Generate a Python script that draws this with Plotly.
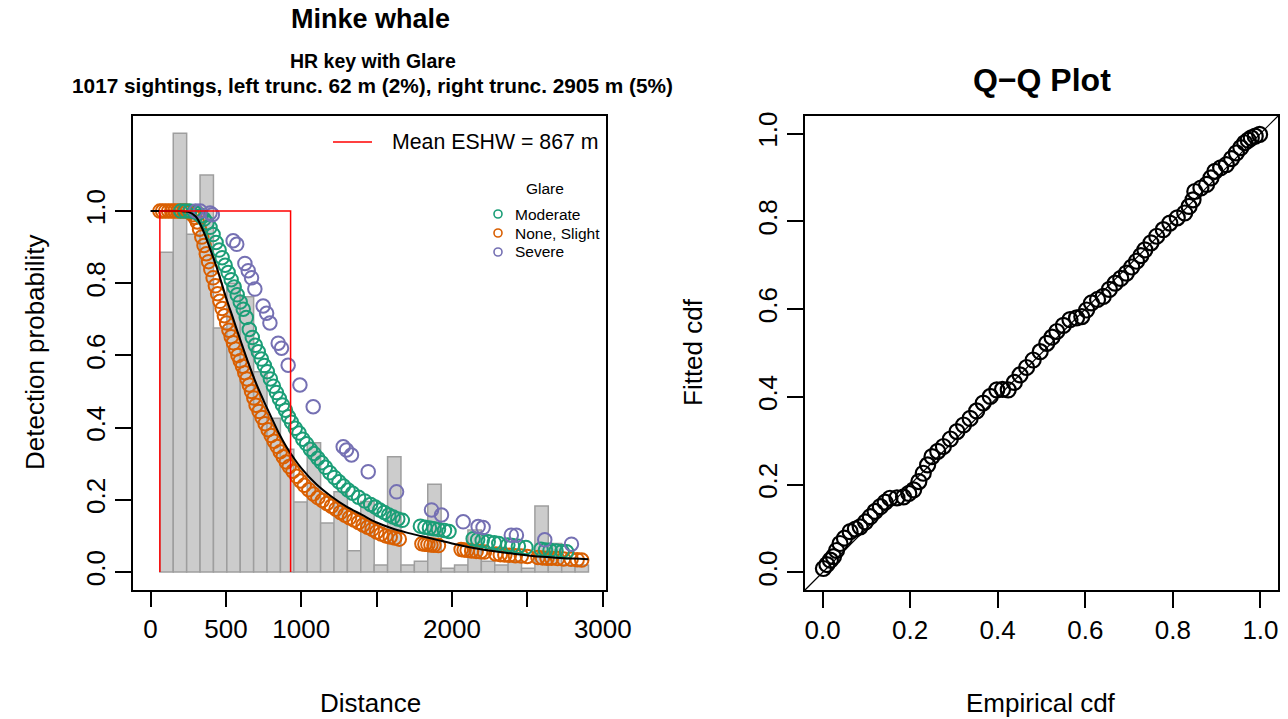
import numpy as np
import plotly.graph_objects as go

# ------------------------------------------------------------------ data
left_trunc = 62
right_trunc = 2905
mean_eshw = 867

# scaled histogram heights (32 equal bins between the truncation distances)
hist_heights = [0.886, 1.216, 0.936, 1.100, 0.676, 0.800, 0.763, 0.555,
                0.426, 0.340, 0.194, 0.358, 0.136, 0.222, 0.059, 0.195,
                0.019, 0.319, 0.019, 0.030, 0.243, 0.010, 0.019, 0.116,
                0.030, 0.019, 0.030, 0.010, 0.183, 0.079, 0.019, 0.019]

# average detection function (black line)
avg_dist = [0, 100, 200, 250, 300, 350, 400, 450, 500, 550, 600, 650, 700,
            750, 800, 850, 900, 950, 1000, 1100, 1200, 1300, 1400, 1500,
            1600, 1700, 1800, 1900, 2000, 2200, 2400, 2600, 2800, 2905]
avg_p = [1.000, 1.000, 1.000, 0.998, 0.985, 0.945, 0.890, 0.830, 0.762,
         0.700, 0.638, 0.578, 0.523, 0.475, 0.430, 0.386, 0.348, 0.316,
         0.288, 0.243, 0.209, 0.181, 0.159, 0.137, 0.121, 0.109, 0.099,
         0.089, 0.079, 0.062, 0.051, 0.042, 0.037, 0.035]

# Glare = None, Slight
ns_dist = [62, 80, 100, 120, 140, 160, 180, 200, 220, 240, 260, 280, 295,
           310, 325, 340, 355, 370, 385, 400, 415, 430, 445, 460, 475, 490,
           505, 520, 535, 550, 565, 580, 595, 610, 625, 640, 655, 670, 685,
           700, 720, 740, 760, 780, 800, 820, 840, 860, 880, 900, 920, 945,
           970, 995, 1020, 1050, 1080, 1110, 1140, 1170, 1200, 1230, 1260,
           1290, 1320, 1350, 1380, 1410, 1440, 1470, 1500, 1530, 1560, 1590,
           1620, 1650, 1800, 1820, 1840, 1860, 1880, 1910, 2060, 2080, 2100,
           2130, 2160, 2190, 2215, 2290, 2320, 2350, 2380, 2420, 2460, 2500,
           2570, 2600, 2630, 2660, 2700, 2740, 2790, 2830, 2860]
ns_p = [1.000, 1.000, 1.000, 1.000, 1.000, 1.000, 1.000, 1.000, 1.000,
        1.000, 0.997, 0.990, 0.982, 0.970, 0.950, 0.928, 0.905, 0.882,
        0.860, 0.838, 0.815, 0.793, 0.771, 0.750, 0.730, 0.710, 0.690,
        0.670, 0.652, 0.635, 0.618, 0.600, 0.585, 0.570, 0.552, 0.535,
        0.518, 0.500, 0.482, 0.462, 0.445, 0.428, 0.411, 0.394, 0.378,
        0.362, 0.348, 0.333, 0.319, 0.305, 0.292, 0.279, 0.265, 0.252,
        0.240, 0.228, 0.216, 0.206, 0.198, 0.190, 0.182, 0.174, 0.165,
        0.157, 0.150, 0.144, 0.137, 0.130, 0.124, 0.118, 0.111, 0.105,
        0.100, 0.097, 0.094, 0.091, 0.078, 0.077, 0.076, 0.075, 0.074,
        0.073, 0.062, 0.061, 0.060, 0.058, 0.057, 0.056, 0.055, 0.050,
        0.048, 0.047, 0.046, 0.045, 0.044, 0.043, 0.040, 0.039, 0.038,
        0.038, 0.037, 0.036, 0.035, 0.034, 0.033]

# Glare = Moderate
mod_dist = [200, 230, 260, 290, 315, 335, 355, 375, 395, 415, 435, 455, 475,
            495, 515, 535, 555, 575, 595, 615, 635, 655, 675, 695, 715, 735,
            755, 775, 795, 815, 835, 855, 875, 895, 915, 935, 960, 985, 1010,
            1035, 1060, 1085, 1110, 1135, 1160, 1190, 1220, 1250, 1280, 1310,
            1340, 1380, 1420, 1460, 1490, 1520, 1550, 1580, 1610, 1640, 1670,
            1790, 1820, 1850, 1880, 1910, 1950, 1980, 2140, 2170, 2200, 2240,
            2280, 2310, 2370, 2400, 2440, 2490, 2590, 2620, 2650, 2690, 2730,
            2760]
mod_p = [1.000, 1.000, 1.000, 0.998, 0.993, 0.987, 0.978, 0.968, 0.955,
         0.935, 0.913, 0.892, 0.871, 0.850, 0.830, 0.810, 0.790, 0.768,
         0.748, 0.728, 0.705, 0.672, 0.650, 0.628, 0.610, 0.590, 0.572,
         0.555, 0.535, 0.515, 0.497, 0.480, 0.463, 0.448, 0.430, 0.415,
         0.398, 0.385, 0.368, 0.355, 0.340, 0.328, 0.315, 0.303, 0.290,
         0.275, 0.262, 0.250, 0.238, 0.227, 0.218, 0.207, 0.197, 0.187,
         0.180, 0.172, 0.165, 0.158, 0.152, 0.147, 0.143, 0.127, 0.124,
         0.122, 0.120, 0.118, 0.115, 0.112, 0.092, 0.089, 0.087, 0.084,
         0.081, 0.079, 0.075, 0.073, 0.071, 0.068, 0.063, 0.061, 0.060,
         0.058, 0.057, 0.056]

# Glare = Severe
sev_dist = [300, 330, 395, 410, 548, 572, 626, 648, 670, 692, 747, 770, 792,
            847, 869, 913, 991, 1079, 1278, 1300, 1333, 1444, 1632, 1864,
            1930, 2074, 2173, 2206, 2393, 2427, 2615, 2792]
sev_p = [1.000, 1.000, 0.995, 0.990, 0.918, 0.908, 0.855, 0.835, 0.815,
         0.784, 0.737, 0.717, 0.690, 0.634, 0.620, 0.573, 0.518, 0.458,
         0.347, 0.338, 0.324, 0.278, 0.222, 0.172, 0.158, 0.139, 0.126,
         0.123, 0.102, 0.102, 0.089, 0.077]

# Q-Q plot
qq_emp = [0.002, 0.010, 0.018, 0.025, 0.032, 0.040, 0.050, 0.063, 0.075,
          0.086, 0.098, 0.109, 0.120, 0.132, 0.143, 0.154, 0.170, 0.185,
          0.197, 0.208, 0.220, 0.230, 0.240, 0.250, 0.263, 0.276, 0.292,
          0.307, 0.322, 0.337, 0.352, 0.367, 0.383, 0.398, 0.411, 0.424,
          0.438, 0.451, 0.466, 0.481, 0.497, 0.512, 0.524, 0.535, 0.550,
          0.565, 0.580, 0.592, 0.603, 0.614, 0.628, 0.641, 0.655, 0.668,
          0.681, 0.694, 0.706, 0.717, 0.727, 0.736, 0.750, 0.763, 0.778,
          0.793, 0.810, 0.827, 0.837, 0.846, 0.850, 0.864, 0.877, 0.887,
          0.896, 0.909, 0.922, 0.934, 0.945, 0.955, 0.964, 0.972, 0.979,
          0.988, 0.998]
qq_fit = [0.009, 0.018, 0.028, 0.036, 0.050, 0.066, 0.078, 0.093, 0.099,
          0.104, 0.115, 0.127, 0.139, 0.150, 0.160, 0.169, 0.170, 0.172,
          0.180, 0.188, 0.207, 0.226, 0.245, 0.264, 0.276, 0.287, 0.304,
          0.321, 0.336, 0.351, 0.368, 0.386, 0.401, 0.416, 0.417, 0.416,
          0.433, 0.450, 0.467, 0.484, 0.503, 0.522, 0.536, 0.549, 0.563,
          0.576, 0.580, 0.583, 0.598, 0.614, 0.622, 0.629, 0.645, 0.659,
          0.670, 0.682, 0.696, 0.709, 0.722, 0.735, 0.751, 0.766, 0.781,
          0.796, 0.808, 0.819, 0.834, 0.849, 0.868, 0.876, 0.884, 0.899,
          0.914, 0.922, 0.929, 0.943, 0.956, 0.968, 0.979, 0.985, 0.990,
          0.994, 0.998]

x_ticks = [0, 500, 1000, 1500, 2000, 2500, 3000]
x_ticktext = ["0", "500", "1000", "", "2000", "", "3000"]
p_ticks = [0.0, 0.2, 0.4, 0.6, 0.8, 1.0]
p_ticktext = ["0.0", "0.2", "0.4", "0.6", "0.8", "1.0"]

# ------------------------------------------------------------------ styling
FONT = "Liberation Sans, Arial, Helvetica, sans-serif"
COL_MOD = "#1B9E77"
COL_NS = "#D95F02"
COL_SEV = "#7570B3"
W, H = 1288, 719


def px(xp):
    return xp / W


def py(yp):
    return 1 - yp / H


edges = np.linspace(left_trunc, right_trunc, len(hist_heights) + 1)
centers = (edges[:-1] + edges[1:]) / 2
bw = edges[1] - edges[0]

fig = go.Figure()

fig.add_trace(go.Bar(x=centers, y=hist_heights, width=bw,
                     marker=dict(color="#CCCCCC",
                                 line=dict(color="#9E9E9E", width=1.5)),
                     xaxis="x", yaxis="y", hoverinfo="skip"))

mk = dict(symbol="circle-open", size=13.5)
for d, p, c in [(ns_dist, ns_p, COL_NS), (mod_dist, mod_p, COL_MOD),
                (sev_dist, sev_p, COL_SEV)]:
    fig.add_trace(go.Scatter(x=d, y=p, mode="markers",
                             marker=dict(color=c, line=dict(color=c, width=2), **mk),
                             xaxis="x", yaxis="y"))

fig.add_trace(go.Scatter(x=avg_dist, y=avg_p, mode="lines",
                         line=dict(color="black", width=2, shape="spline"),
                         xaxis="x", yaxis="y"))

eshw_right = left_trunc + mean_eshw
fig.add_trace(go.Scatter(x=[left_trunc, left_trunc, eshw_right, eshw_right],
                         y=[0, 1, 1, 0], mode="lines",
                         line=dict(color="#FF0000", width=1.5),
                         xaxis="x", yaxis="y"))

fig.add_trace(go.Scatter(x=qq_emp, y=qq_fit, mode="markers",
                         marker=dict(color="black", symbol="circle-open", size=15,
                                     line=dict(color="black", width=2.2)),
                         xaxis="x2", yaxis="y2"))

axis_common = dict(showline=True, mirror=True, linecolor="black", linewidth=1.5,
                   ticks="outside", ticklen=16, tickwidth=1.5, tickcolor="black",
                   showgrid=False, zeroline=False, automargin=False,
                   tickfont=dict(family=FONT, size=26, color="black"))

fig.update_layout(
    width=W, height=H, autosize=False, margin=dict(l=0, r=0, t=0, b=0, pad=0),
    paper_bgcolor="white", plot_bgcolor="white", showlegend=False,
    xaxis=dict(domain=[px(133), px(606)], range=[-116.2, 3021.2], anchor="y",
               tickvals=x_ticks, ticktext=x_ticktext, **axis_common),
    yaxis=dict(domain=[py(589.5), py(116)], range=[-0.0486, 1.2636], anchor="x",
               tickvals=p_ticks, ticktext=p_ticktext, tickangle=-90, **axis_common),
    xaxis2=dict(domain=[px(805), px(1278)], range=[-0.04, 1.04], anchor="y2",
                tickvals=p_ticks, ticktext=p_ticktext, **axis_common),
    yaxis2=dict(domain=[py(590), py(116)], range=[-0.04, 1.04], anchor="x2",
                tickvals=p_ticks, ticktext=p_ticktext, tickangle=-90, **axis_common),
)

# Q-Q reference line y = x across the full panel
fig.add_shape(type="line", xref="x2 domain", yref="y2 domain", x0=0, y0=0, x1=1, y1=1,
              line=dict(color="black", width=1.2))


def note(text, x, y, size, bold=False, angle=0, xanchor="center", color="black"):
    fig.add_annotation(text=f"<b>{text}</b>" if bold else text,
                       x=px(x), y=py(y), xref="paper", yref="paper",
                       showarrow=False, textangle=angle, xanchor=xanchor,
                       yanchor="middle", font=dict(family=FONT, size=size, color=color))


# titles
note("Minke whale", 370, 19, 27, bold=True)
note("HR key with Glare", 373, 61, 19.5, bold=True)
note("1017 sightings, left trunc. 62 m (2%), right trunc. 2905 m (5%)", 372, 85, 20.8, bold=True)
note("Q\u2212Q Plot", 1042, 80, 32, bold=True)

# axis titles
note("Distance", 370, 703, 26)
note("Detection probability", 35, 352, 26, angle=-90)
note("Empirical cdf", 1041, 703, 26)
note("Fitted cdf", 693, 352, 26, angle=-90)

# ESHW legend
fig.add_shape(type="line", xref="paper", yref="paper", x0=px(333), x1=px(372),
              y0=py(142), y1=py(142), line=dict(color="#FF0000", width=1.5))
note("Mean ESHW = 867 m", 390, 142, 21.3, xanchor="left")

# Glare legend
note("Glare", 545, 189, 15.5)
for lbl, c, yy in [("Moderate", COL_MOD, 214), ("None, Slight", COL_NS, 233),
                   ("Severe", COL_SEV, 252)]:
    fig.add_shape(type="circle", xref="paper", yref="paper",
                  xsizemode="pixel", ysizemode="pixel",
                  xanchor=px(498), yanchor=py(yy), x0=-4, x1=4, y0=-4, y1=4,
                  line=dict(color=c, width=1.6))
    note(lbl, 513, yy, 15.5, xanchor="left")

fig.write_html("out.html",
               config={"responsive": False, "displayModeBar": False},
               post_script="document.body.style.margin='0';"
                           "document.body.style.overflow='hidden';")
